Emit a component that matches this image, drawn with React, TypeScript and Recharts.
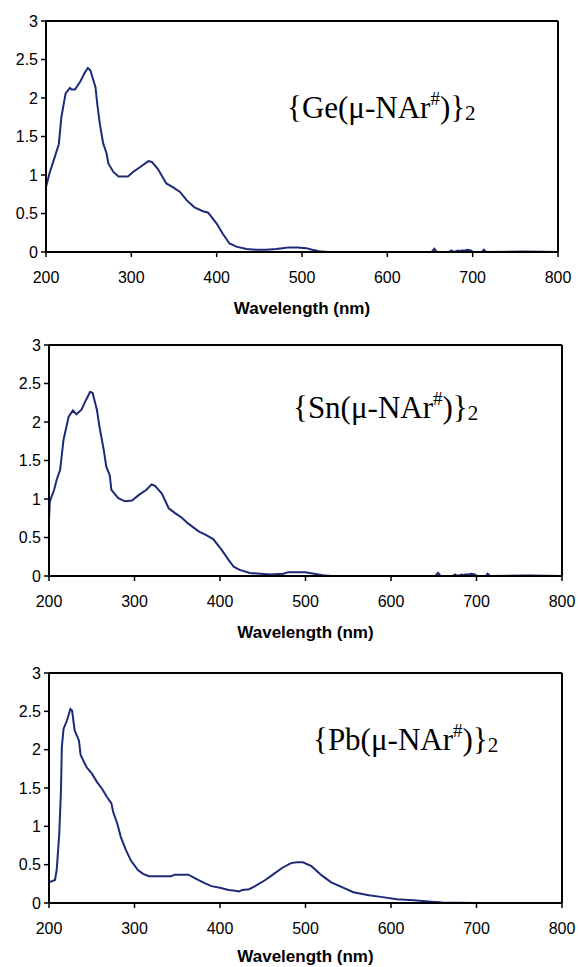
import React from "react";
import { LineChart, Line, XAxis, YAxis, ReferenceLine } from "recharts";

// wavelength (nm) / absorbance
const GE_NM = [
  200, 204, 209, 215, 218, 223, 228, 230, 234, 240,
  245, 249, 252, 258, 260, 263, 267, 271, 273, 279,
  285, 296, 302, 310, 320, 324, 331, 341, 349, 357,
  365, 374, 384, 390, 400, 407, 415, 423, 435, 446,
  458, 470, 477, 485, 495, 505, 512, 520, 530, 600,
  652, 655, 658, 672, 675, 678, 683, 685, 687, 691,
  694, 698, 700, 711, 713, 716, 760, 800,
];
const GE_ABS = [
  0.84, 1.02, 1.19, 1.4, 1.75, 2.06, 2.13, 2.11, 2.11, 2.21,
  2.32, 2.39, 2.36, 2.14, 1.93, 1.67, 1.41, 1.28, 1.15, 1.04,
  0.98, 0.98, 1.04, 1.1, 1.18, 1.17, 1.08, 0.89, 0.84, 0.78,
  0.67, 0.58, 0.53, 0.51, 0.37, 0.24, 0.11, 0.07, 0.04, 0.03,
  0.03, 0.04, 0.05, 0.06, 0.06, 0.05, 0.03, 0.01, 0, 0,
  0, 0.04, 0, 0, 0.02, 0, 0.02, 0.01, 0.02, 0.02,
  0.03, 0.02, 0, 0, 0.03, 0, 0.005, 0,
];

const SN_NM = [
  200, 201, 206, 209, 213, 217, 223, 228, 232, 238,
  243, 248, 251, 256, 259, 264, 267, 271, 273, 281,
  289, 297, 306, 314, 320, 324, 332, 340, 347, 355,
  363, 375, 384, 392, 402, 410, 416, 423, 435, 447,
  459, 474, 480, 490, 500, 510, 520, 530, 600, 652,
  655, 658, 672, 675, 678, 683, 685, 687, 691, 694,
  698, 700, 711, 713, 716, 760, 800,
];
const SN_ABS = [
  0.73, 0.97, 1.12, 1.25, 1.38, 1.77, 2.07, 2.15, 2.1, 2.16,
  2.28, 2.39, 2.38, 2.16, 1.94, 1.64, 1.42, 1.31, 1.12, 1.01,
  0.97, 0.98, 1.06, 1.12, 1.19, 1.17, 1.07, 0.88, 0.82, 0.76,
  0.68, 0.58, 0.53, 0.48, 0.34, 0.21, 0.12, 0.08, 0.04, 0.03,
  0.02, 0.03, 0.05, 0.05, 0.05, 0.03, 0.01, 0, 0, 0,
  0.04, 0, 0, 0.02, 0, 0.02, 0.01, 0.02, 0.02, 0.03,
  0.02, 0, 0, 0.03, 0, 0.005, 0,
];

const PB_NM = [
  200, 207, 209, 212, 214, 215, 217, 221, 225, 227,
  230, 235, 237, 244, 250, 256, 262, 268, 273, 275,
  280, 284, 290, 296, 304, 310, 317, 331, 343, 347,
  363, 371, 382, 390, 400, 410, 418, 422, 426, 434,
  441, 453, 463, 473, 483, 490, 497, 507, 519, 530,
  542, 556, 574, 588, 607, 627, 647, 660, 700, 800,
];
const PB_ABS = [
  0.27, 0.3, 0.43, 0.9, 1.47, 2.03, 2.27, 2.38, 2.53, 2.51,
  2.25, 2.12, 1.93, 1.77, 1.69, 1.58, 1.49, 1.38, 1.3, 1.19,
  1.03, 0.86, 0.69, 0.55, 0.43, 0.38, 0.35, 0.35, 0.35, 0.37,
  0.37, 0.32, 0.26, 0.22, 0.2, 0.17, 0.16, 0.15, 0.17, 0.18,
  0.22, 0.3, 0.38, 0.46, 0.52, 0.53, 0.53, 0.48, 0.36, 0.27,
  0.21, 0.14, 0.1, 0.08, 0.05, 0.035, 0.017, 0.005, 0, 0,
];

const X_TICKS = [200, 300, 400, 500, 600, 700, 800];
const Y_TICKS = [0, 0.5, 1, 1.5, 2, 2.5, 3];

const LINE = "#1c2a78";
const SANS = "'Liberation Sans', Arial, sans-serif";
const SERIF = "'Liberation Serif', 'Times New Roman', serif";

const toRows = (nm: number[], abs: number[]) =>
  nm.map((x, i) => ({ nm: x, a: abs[i] }));

type PanelProps = {
  top: number; // page y of plot top
  left: number; // page x of plot left
  right: number; // page x of plot right
  plotH: number;
  nm: number[];
  abs: number[];
  metal: string;
  labelX: number;
  labelBase: number; // baseline y (page)
  titleGap: number; // plot bottom -> centre of "Wavelength (nm)"
};

function Panel({ top, left, right, plotH, nm, abs, metal, labelX, labelBase, titleGap }: PanelProps) {
  const mTop = 20;
  const axisH = 50;
  const yW = 40;
  const h = mTop + plotH + axisH;
  const plotBottom = top + plotH;
  return (
    <>
      <div style={{ position: "absolute", left: 0, top: top - mTop }}>
        <LineChart
          width={578}
          height={h}
          data={toRows(nm, abs)}
          margin={{ top: mTop, right: 578 - right, left: left - yW, bottom: 0 }}
        >
          <XAxis
            type="number"
            dataKey="nm"
            domain={[200, 800]}
            ticks={X_TICKS}
            height={axisH}
            tickSize={5}
            tickMargin={15}
            axisLine={{ stroke: "#000", strokeWidth: 2 }}
            tickLine={{ stroke: "#000", strokeWidth: 1.5 }}
            tick={{ fill: "#000", fontSize: 16, fontFamily: SANS }}
            allowDataOverflow
          />
          <YAxis
            type="number"
            domain={[0, 3]}
            ticks={Y_TICKS}
            width={yW}
            tickSize={5}
            tickMargin={3}
            axisLine={{ stroke: "#000", strokeWidth: 2 }}
            tickLine={{ stroke: "#000", strokeWidth: 1.5 }}
            tick={{ fill: "#000", fontSize: 16, fontFamily: SANS }}
          />
          <ReferenceLine y={3} stroke="#000" strokeWidth={2} />
          <ReferenceLine x={800} stroke="#000" strokeWidth={2} />
          <Line
            type="linear"
            dataKey="a"
            stroke={LINE}
            strokeWidth={2}
            dot={false}
            isAnimationActive={false}
          />
        </LineChart>
      </div>

      {/* compound name */}
      <div
        style={{
          position: "absolute",
          left: labelX,
          top: labelBase - 26,
          fontFamily: SERIF,
          fontSize: 31,
          lineHeight: "31px",
          color: "#000",
          whiteSpace: "nowrap",
        }}
      >
        {"{" + metal + "(\u03bc-NAr"}
        <span style={{ fontSize: 19, verticalAlign: "13px", lineHeight: 0 }}>#</span>
        {")}"}
        <span style={{ fontSize: 21, verticalAlign: "-2px", lineHeight: 0 }}>2</span>
      </div>

      {/* x axis title */}
      <div
        style={{
          position: "absolute",
          left,
          width: right - left,
          top: plotBottom + titleGap - 8.3,
          textAlign: "center",
          fontFamily: SANS,
          fontWeight: "bold",
          fontSize: 17,
          lineHeight: "17px",
          color: "#000",
        }}
      >
        Wavelength (nm)
      </div>
    </>
  );
}

export default function App() {
  return (
    <div
      style={{
        position: "absolute",
        left: 0,
        top: 0,
        width: 578,
        height: 967,
        background: "#fff",
        overflow: "hidden",
      }}
    >
      <Panel top={21} left={46} right={558} plotH={231} nm={GE_NM} abs={GE_ABS} metal="Ge" labelX={287} labelBase={118} titleGap={56} />
      <Panel top={345} left={49} right={562} plotH={231} nm={SN_NM} abs={SN_ABS} metal="Sn" labelX={293} labelBase={418} titleGap={56} />
      <Panel top={673} left={49} right={562} plotH={230} nm={PB_NM} abs={PB_ABS} metal="Pb" labelX={313} labelBase={750} titleGap={53} />
    </div>
  );
}
